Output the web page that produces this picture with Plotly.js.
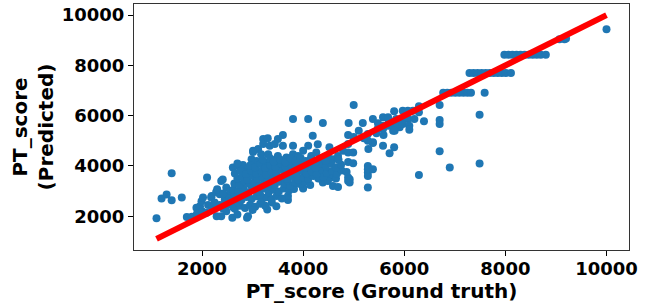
<!DOCTYPE html>
<html>
<head>
<meta charset="utf-8">
<script src="https://cdn.plot.ly/plotly-3.0.1.min.js"></script>
<style>html,body{margin:0;padding:0;background:#fff;}#chart{width:664px;height:306px;}</style>
</head>
<body>
<div id="chart"></div>
<script>
// Ground truth (x) and predicted (y) PT_score values
const gtX = [
1100,1200,1300,1400,1400,1600,1700,1800,1890,1960,1990,2020,2100,1900,2000,2090,2180,2190,2290,2280,
2380,2380,2480,2480,2410,2350,2300,2120,2200,2250,2350,2420,2450,2500,2530,2420,2560,2600,2620,2600,
2700,2610,2710,2810,2810,2910,2810,2890,2910,2980,3080,3010,3110,3170,3210,3300,3210,3500,3600,3600,
3800,3340,3440,3800,4100,4390,4100,4290,4190,3010,3110,3270,3470,3010,3310,3500,3670,3800,3900,4000,
4160,4260,4490,4590,4690,4790,4520,
3290,3470,3700,3700,4000,4000,4590,4390,4690,4920,4920,4890,4890,5280,5280,5280,5280,5280,5380,4460,
4360,4460,4560,4560,4490,
2650,2750,2850,2950,3050,3150,3250,2700,3000,3380,
2580,2680,2780,2880,2980,3080,3180,3280,3380,3480,3580,3150,2650,2760,
2620,2720,2820,2920,3020,3120,3220,3320,3420,3520,3620,3720,3820,2980,3300,
2640,2740,2840,2940,3040,3140,3240,3340,3440,3540,3640,3740,3840,3940,4040,4140,3690,
2700,2800,2900,3000,3100,3200,3300,3400,3500,3600,3700,3800,3900,4000,4100,4200,4300,4400,4650,
2650,2760,2870,2970,3070,3170,3270,3370,3470,3570,3670,3770,3870,3970,4070,4170,4270,4370,4470,4570,4670,4760,4860,
2700,2950,3050,3150,3250,3350,3450,3550,3650,3750,3850,3950,4050,4150,4250,4350,4450,4550,4650,4750,4890,4990,
3200,3350,3420,3550,3650,3750,3850,3950,4050,4150,4250,4350,4450,4700,4890,4990,4890,4890,
5000,4900,5180,5380,5580,5680,5800,5580,5780,5280,5380,5580,5680,5780,5910,5290,5380,5280,5710,5800,
5580,5480,5480,5840,5970,6070,6200,5740,5870,5970,6100,6100,5970,6070,6170,6290,6290,5680,5590,5100,
5200,5000,5450,5810,6390,6290,6700,6700,6700,6700,6900,7490,7490,
6770,6850,6930,7010,7090,7170,7250,7320,7590,
7290,7370,7450,7530,7610,7690,7770,7850,7930,8010,8110,
7980,8060,8140,8220,8300,8380,8460,8540,8620,8700,8800,
9070,9170,9200,10000
];
const predY = [
1920,2700,2860,2630,3710,2740,1970,1980,2340,2400,2600,2740,3540,2100,2200,2140,2740,2800,2000,2960,
2000,3400,2200,3140,3460,2870,3070,2450,2350,2550,2450,2300,2650,2450,2800,2900,3000,2650,2350,1940,
2070,3940,4000,3940,4040,3910,3740,1940,2000,4270,4200,4600,4670,4470,5070,5100,4870,5070,5230,4800,
4800,4800,4870,5870,5870,5710,4800,4860,5200,4160,4160,4140,4270,4560,4470,4400,4340,4470,4400,4600,
4400,4540,4400,4270,4400,4600,4740,
2270,2400,2640,2800,3100,3140,3200,3340,3160,3470,3340,3540,3400,3140,3740,3600,3870,4000,3870,3800,
3740,3600,3540,3670,3400,
2300,2420,2330,2450,2380,2500,2420,2560,2250,2550,
2600,2700,2640,2760,2680,2790,2620,2750,2680,2800,2700,2850,2850,2900,
3050,3000,3100,2950,3080,2980,3100,2950,3050,2980,3100,3020,3080,3200,3180,
3300,3250,3380,3280,3350,3220,3380,3300,3250,3370,3280,3220,3350,3280,3380,3240,3420,
3500,3560,3450,3600,3480,3550,3430,3580,3470,3560,3480,3600,3450,3550,3480,3600,3500,3560,3500,
3700,3800,3680,3820,3700,3800,3660,3780,3700,3850,3720,3800,3680,3820,3700,3780,3680,3850,3720,3800,3700,3820,3760,
4100,4020,3950,4080,3920,4050,3960,4100,3940,4060,3980,4100,3950,4050,3920,4080,3970,4100,3950,4050,4160,4110,
4250,4300,4180,4250,4150,4300,4200,4320,4200,4280,4160,4300,4200,4250,4540,4540,4870,5230,
6430,5710,5710,5870,5940,5870,6180,5600,5600,5270,4940,5470,5600,5400,5540,4670,4910,5000,4510,4740,
4800,5500,5700,5870,5800,5870,5870,5740,5670,5670,5600,5440,6200,6200,6200,6380,6140,5940,5230,5400,
5100,5150,5300,5400,5780,3640,6430,5830,5670,4580,3940,4100,6040,
6910,6910,6910,6910,6910,6910,6910,6910,6910,
7700,7700,7700,7700,7700,7700,7700,7700,7700,7700,7700,
8430,8430,8430,8430,8430,8430,8430,8430,8430,8430,8430,
9040,9040,9070,9440
];
// Identity reference line (y = x) over the data range
const lineX = [1100, 10000];
const lineY = [1100, 10000];
const xTicks = [2000, 4000, 6000, 8000, 10000];
const yTicks = [2000, 4000, 6000, 8000, 10000];

const font = {family: 'DejaVu Sans', size: 18, weight: 'bold', color: '#000'};
const titleFont = {family: 'DejaVu Sans', size: 20, weight: 'bold', color: '#000'};

const traces = [
  {x: gtX, y: predY, type: 'scatter', mode: 'markers',
   marker: {color: '#1f77b4', size: 8, line: {width: 0}}, hoverinfo: 'skip'},
  {x: lineX, y: lineY, type: 'scatter', mode: 'lines',
   line: {color: '#ff0000', width: 6}, hoverinfo: 'skip'}
];

const axisCommon = {
  showgrid: false, zeroline: false, showline: true, mirror: true,
  linecolor: '#333', linewidth: 1, ticks: 'outside', ticklen: 5, tickwidth: 1,
  tickcolor: '#000', tickfont: font
};

const layout = {
  width: 664, height: 306,
  margin: {l: 134, r: 35, t: 4, b: 56},
  paper_bgcolor: '#fff', plot_bgcolor: '#fff',
  showlegend: false,
  font: font,
  xaxis: Object.assign({}, axisCommon, {
    range: [655, 10445], tickvals: xTicks, ticktext: xTicks.map(String),
    ticklabelstandoff: -3,
    title: {text: 'PT_score (Ground truth)', font: titleFont, standoff: 0}
  }),
  yaxis: Object.assign({}, axisCommon, {
    range: [655, 10445], tickvals: yTicks, ticktext: yTicks.map(String),
    title: {text: 'PT_score<br>(Predicted)', font: titleFont, standoff: 2}
  })
};

Plotly.newPlot('chart', traces, layout, {staticPlot: true, displayModeBar: false});
</script>
</body>
</html>
